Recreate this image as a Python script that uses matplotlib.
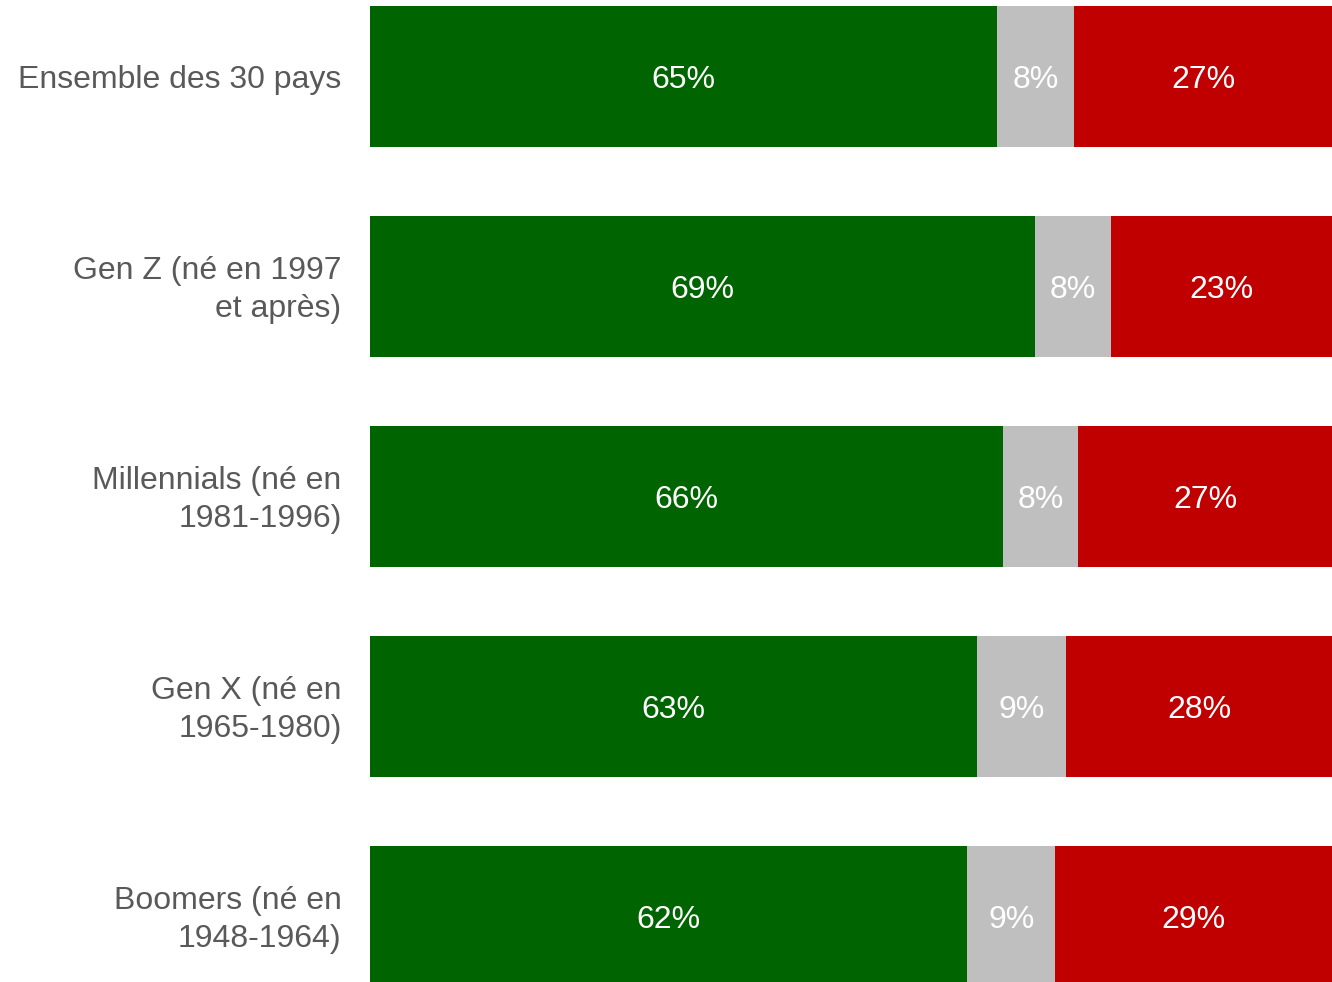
import matplotlib.pyplot as plt

plt.rcParams['font.family'] = ['Liberation Sans', 'DejaVu Sans']

categories = [
    "Ensemble des 30 pays",
    "Gen Z (né en 1997\net après)",
    "Millennials (né en\n1981-1996)",
    "Gen X (né en\n1965-1980)",
    "Boomers (né en\n1948-1964)",
]
# estimated shares (bar widths) and the rounded labels shown on the bars
green_vals = [65.2, 69.1, 65.8, 63.1, 62.1]
gray_vals = [8.0, 7.9, 7.8, 9.3, 9.1]
red_vals = [26.8, 23.0, 26.4, 27.6, 28.8]
green_labels = ["65%", "69%", "66%", "63%", "62%"]
gray_labels = ["8%", "8%", "8%", "9%", "9%"]
red_labels = ["27%", "23%", "27%", "28%", "29%"]

colors = ["#006400", "#BFBFBF", "#C00000"]

fig = plt.figure(figsize=(13.32, 9.82), dpi=100)
ax = fig.add_axes([370 / 1332, 0, 962 / 1332, 1])

dy = 3.5 / 210  # small downward nudge for text

y = list(range(len(categories)))
left = [0] * len(categories)
for vals, labels, col in zip([green_vals, gray_vals, red_vals],
                             [green_labels, gray_labels, red_labels], colors):
    bars = ax.barh(y, vals, left=left, height=0.667, color=col, edgecolor='none')
    for b, lab in zip(bars, labels):
        ax.text(b.get_x() + b.get_width() / 2, b.get_y() + b.get_height() / 2 + dy, lab,
                ha='center', va='center', color='white', fontsize=23)
    left = [l + v for l, v in zip(left, vals)]

for i, cat in enumerate(categories):
    ax.text(-2.95, i + dy, cat, ha='right', va='center', multialignment='right',
            color='#595959', fontsize=23, linespacing=1.36)

ax.set_xlim(0, 100)
ax.set_ylim((982 - 76.5) / 210, -76.5 / 210)
ax.axis('off')

fig.savefig("out.png", dpi=100)
